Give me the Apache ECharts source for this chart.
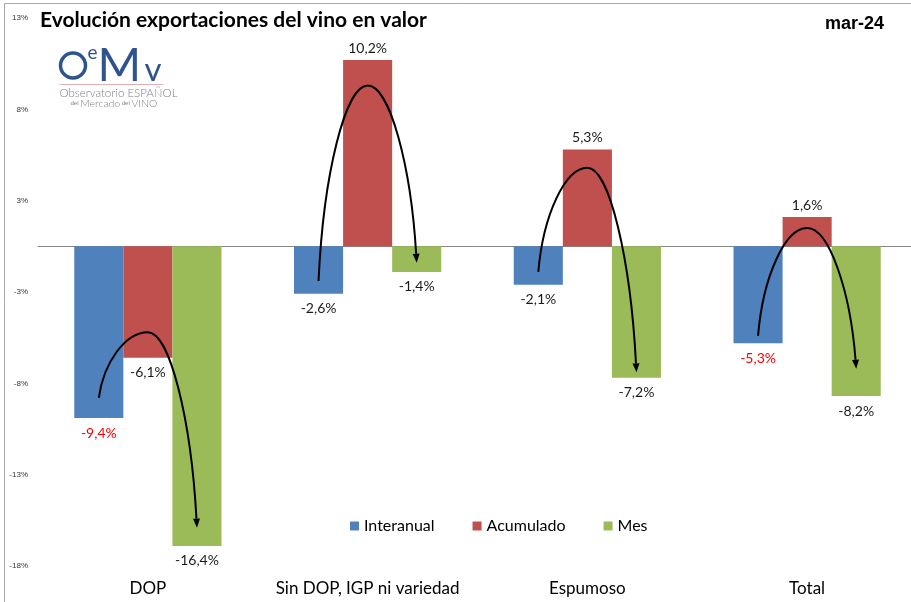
<!DOCTYPE html>
<html>
<head>
<meta charset="utf-8">
<script src="https://cdn.jsdelivr.net/npm/echarts@6/dist/echarts.min.js"></script>
<style>
  html, body { margin: 0; padding: 0; background: #fff; }
  #chart { width: 911px; height: 602px; }
</style>
</head>
<body>
<div id="chart"></div>
<script>
  // categorias y valores (%)
  var categories = ['DOP', 'Sin DOP, IGP ni variedad', 'Espumoso', 'Total'];
  var interanual = [-9.4, -2.6, -2.1, -5.3];
  var acumulado = [-6.1, 10.2, 5.3, 1.6];
  var mes = [-16.4, -1.4, -7.2, -8.2];
  // etiquetas de interanual marcadas en rojo
  var interanualRojo = [true, false, false, true];

  // flechas: nivel de inicio (interanual), cima (acumulado) y fin (mes)
  var flechaInicio = [-8.3, -1.9, -1.4, -4.9];
  var flechaCima = [-4.7, 8.8, 4.3, 1.0];
  var flechaFin = [-15.4, -0.9, -6.9, -6.7];

  var chart = echarts.init(document.getElementById('chart'));
  var labelFont = 'Lato, "Open Sans", sans-serif';
  var logoBlue = '#2E5490';

  function fmt(v) {
    return v.toFixed(1).replace('.', ',') + '%';
  }

  function barData(values, redFlags) {
    return values.map(function (v, i) {
      return {
        value: v,
        label: {
          position: v >= 0 ? 'top' : 'bottom',
          distance: v >= 0 ? 5 : 8,
          color: redFlags && redFlags[i] ? '#FF0000' : '#1a1a1a'
        }
      };
    });
  }

  var arrowData = categories.map(function (c, i) {
    return [i, flechaInicio[i], flechaCima[i], flechaFin[i]];
  });

  function renderArrow(params, api) {
    var i = api.value(0);
    var band = api.size([1, 0])[0];
    var bw = band * 0.67 / 3;
    var cx = api.coord([i, 0])[0];
    var p0 = [cx - bw, api.coord([i, api.value(1)])[1]];
    var p1 = [cx, api.coord([i, api.value(2)])[1]];
    var p2 = [cx + bw, api.coord([i, api.value(3)])[1]];
    var c2x = p2[0] - bw * 0.12;
    var c2y = p1[1] + (p2[1] - p1[1]) * 0.45;
    var dx = p2[0] - c2x, dy = p2[1] - c2y;
    var len = Math.sqrt(dx * dx + dy * dy);
    dx /= len; dy /= len;
    var bx = p2[0] - dx * 9, by = p2[1] - dy * 9;
    var style = { stroke: '#000', lineWidth: 2, fill: null };
    return {
      type: 'group',
      children: [
        {
          type: 'bezierCurve',
          shape: {
            x1: p0[0], y1: p0[1], x2: p1[0], y2: p1[1],
            cpx1: p0[0] + bw * 0.1, cpy1: p0[1] + (p1[1] - p0[1]) * 0.55,
            cpx2: p1[0] - bw * 0.45, cpy2: p1[1]
          },
          style: style
        },
        {
          type: 'bezierCurve',
          shape: {
            x1: p1[0], y1: p1[1], x2: bx, y2: by,
            cpx1: p1[0] + bw * 0.45, cpy1: p1[1],
            cpx2: c2x, cpy2: c2y
          },
          style: style
        },
        {
          type: 'polygon',
          shape: {
            points: [
              [p2[0], p2[1]],
              [bx - dy * 3.5, by + dx * 3.5],
              [bx + dy * 3.5, by - dx * 3.5]
            ]
          },
          style: { fill: '#000' }
        }
      ]
    };
  }

  var option = {
    animation: false,
    textStyle: { fontFamily: labelFont },
    title: {
      text: 'Evolución exportaciones del vino en valor',
      left: 35,
      top: 5,
      textStyle: { fontSize: 21, fontWeight: 'bold', color: '#000', fontFamily: labelFont }
    },
    legend: {
      data: ['Interanual', 'Acumulado', 'Mes'],
      left: 345,
      top: 513,
      icon: 'rect',
      itemWidth: 9,
      itemHeight: 9,
      itemGap: 38,
      textStyle: { fontSize: 16, color: '#000', fontFamily: labelFont }
    },
    grid: { left: 38, width: 879, top: 18, bottom: 36, outerBoundsMode: 'none' },
    xAxis: [
      {
        type: 'category',
        data: categories,
        axisLine: { show: false, onZero: false },
        axisTick: { show: false },
        axisLabel: { fontSize: 17, color: '#000', margin: 14, interval: 0 }
      },
      {
        type: 'category',
        data: categories,
        axisLine: { show: true, onZero: true, lineStyle: { color: '#868686', width: 1 } },
        axisTick: { show: false },
        axisLabel: { show: false }
      }
    ],
    yAxis: {
      type: 'value',
      min: -17.5,
      max: 12.5,
      interval: 5,
      splitLine: { show: false },
      axisLine: { show: false },
      axisTick: { show: false },
      axisLabel: {
        fontSize: 8,
        color: '#333',
        margin: 10,
        fontFamily: 'Liberation Sans, Arial, sans-serif',
        formatter: function (v) {
          return (v < 0 ? '-' : '') + Math.round(Math.abs(v)) + '%';
        }
      }
    },
    graphic: [
      {
        type: 'rect',
        shape: { x: 4.5, y: 3.5, width: 930, height: 640 },
        style: { fill: null, stroke: '#A6A6A6', lineWidth: 1 },
        silent: true
      },
      {
        type: 'group',
        left: 58,
        top: 42,
        children: [
          { type: 'circle', shape: { cx: 15.5, cy: 22.5, r: 12.5 }, style: { fill: null, stroke: logoBlue, lineWidth: 3.5 } },
          { type: 'text', x: 30, y: 0, style: { text: 'e', fontSize: 19, fontFamily: 'Lato', fill: logoBlue } },
          { type: 'text', x: 40, y: -1, style: { text: 'M', fontSize: 47, fontFamily: 'Lato', fill: logoBlue } },
          { type: 'text', x: 87, y: 11, style: { text: 'v', fontSize: 33, fontFamily: 'Lato', fill: logoBlue } },
          { type: 'rect', shape: { x: 2, y: 41, width: 104, height: 1 }, style: { fill: '#E6B0B0' } },
          { type: 'text', x: 2, y: 44, style: { text: 'Observatorio ESPAÑOL', fontSize: 11.5, fontFamily: 'Lato', fontWeight: 300, fill: '#7F7F7F' } },
          { type: 'text', x: 13, y: 55, style: { text: '{s|del }Mercado{s| del }VINO', fontSize: 10.5, fontFamily: 'Lato', fontWeight: 300, fill: '#7F7F7F', rich: { s: { fontSize: 6, fill: '#7F7F7F' } } } }
        ]
      },
      {
        type: 'text',
        right: 27,
        top: 15,
        style: { text: 'mar-24', fontSize: 18, fontWeight: 'bold', fontFamily: 'Liberation Sans, Arial', fill: '#000' }
      }
    ],
    series: [
      {
        name: 'Interanual',
        type: 'bar',
        barGap: '0%',
        barCategoryGap: '33%',
        itemStyle: { color: '#4F81BD' },
        label: { show: true, fontSize: 14, formatter: function (p) { return fmt(p.value); } },
        data: barData(interanual, interanualRojo)
      },
      {
        name: 'Acumulado',
        type: 'bar',
        itemStyle: { color: '#C0504D' },
        label: { show: true, fontSize: 14, formatter: function (p) { return fmt(p.value); } },
        data: barData(acumulado)
      },
      {
        name: 'Mes',
        type: 'bar',
        itemStyle: { color: '#9BBB59' },
        label: { show: true, fontSize: 14, formatter: function (p) { return fmt(p.value); } },
        data: barData(mes)
      },
      {
        name: 'flechas',
        type: 'custom',
        renderItem: renderArrow,
        data: arrowData,
        z: 10,
        silent: true
      }
    ]
  };

  chart.setOption(option);
  window.addEventListener('resize', function () {
    chart.resize();
  });
</script>
</body>
</html>
